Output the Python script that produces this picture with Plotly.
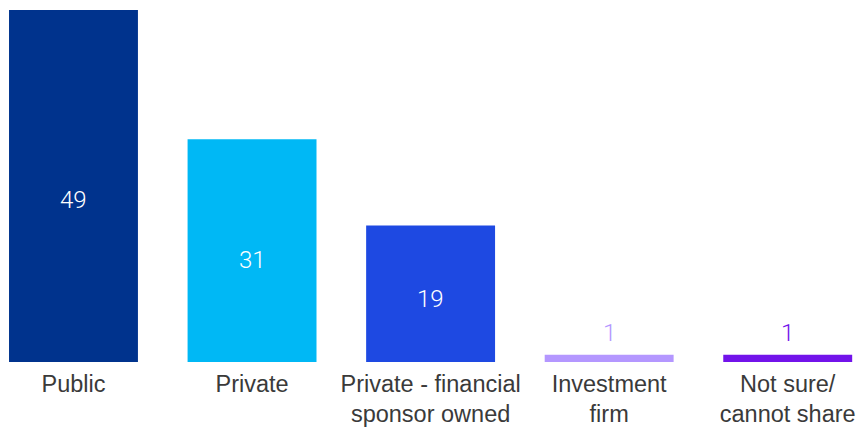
import plotly.graph_objects as go

categories = ["Public", "Private", "Private - financial<br>sponsor owned",
              "Investment<br>firm", "Not sure/<br>cannot share"]
values = [49, 31, 19, 1, 1]
colors = ["#00338D", "#00B8F5", "#1E49E2", "#B497FF", "#7213EA"]

NUM_FONT = "Roboto"
CAT_FONT = "Liberation Sans"

fig = go.Figure(
    go.Bar(
        x=categories,
        y=values,
        marker=dict(color=colors, line=dict(width=0)),
        width=0.722,
        hoverinfo="skip",
    )
)

# value labels: white inside tall bars, bar-coloured above short ones
for cat, v, c in zip(categories, values, colors):
    if v >= 5:
        fig.add_annotation(x=cat, y=v * 0.46, text=str(v), showarrow=False,
                           font=dict(family=NUM_FONT, size=24, color="white", weight=300))
    else:
        fig.add_annotation(x=cat, y=v, text=str(v), showarrow=False,
                           yanchor="bottom", yshift=6,
                           font=dict(family=NUM_FONT, size=24, color=c, weight=300))

fig.update_layout(
    width=857, height=428,
    margin=dict(l=0, r=0, t=0, b=66),
    plot_bgcolor="white", paper_bgcolor="white",
    showlegend=False,
    xaxis=dict(range=[-0.4115, 4.388], showgrid=False, zeroline=False, showline=False,
               ticks="", ticklabelstandoff=5,
               tickfont=dict(family=CAT_FONT, size=23.5, color="#3a3a3a"),
               fixedrange=True),
    yaxis=dict(range=[0, 50.39], visible=False, fixedrange=True),
)

fig.write_html("out.html")
